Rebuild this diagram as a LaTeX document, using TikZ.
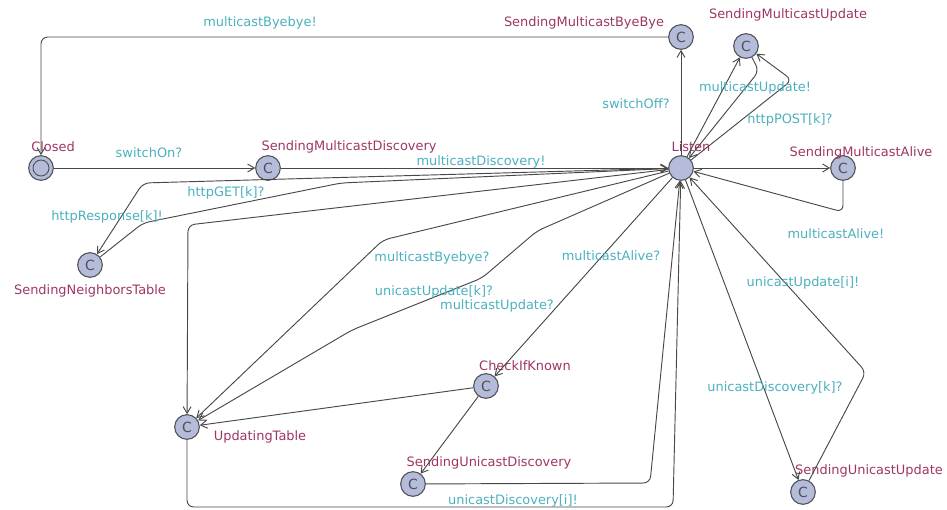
\documentclass[tikz,border=0pt]{standalone}
\usepackage{fontspec}
\setmainfont{DejaVu Sans}
\usepackage{xcolor}
\usepackage{tikz}
\usetikzlibrary{arrows.meta}

\definecolor{locfill}{RGB}{181,188,217}
\definecolor{locdraw}{RGB}{80,80,88}
\definecolor{namecol}{RGB}{158,54,100}
\definecolor{synccol}{RGB}{76,176,190}
\definecolor{edgecol}{RGB}{72,72,72}

\begin{document}
\begin{tikzpicture}[x=0.75pt,y=0.75pt,yscale=-1,xscale=1,
  loc/.style={circle,draw=locdraw,fill=locfill,line width=0.8pt,minimum size=18.5pt,inner sep=0pt,text=locdraw,font=\fontsize{10.5}{10.5}\selectfont},
  locname/.style={text=namecol,inner sep=0.75pt,font=\fontsize{9.7}{11}\selectfont},
  sync/.style={text=synccol,inner sep=0.75pt,font=\fontsize{9.7}{11}\selectfont},
  trans/.style={draw=edgecol,line width=0.7pt,rounded corners=5pt,-{Straight Barb[length=5pt,width=6pt]}}]
\useasboundingbox (0,0) rectangle (947,510);

%Shape: Circle (locations)
\node [loc] (closed) at (41,168) {};
\draw [locdraw,line width=0.7pt] (closed.center) circle [radius=6pt];
\node [loc] (smd) at (268,168) {C};
\node [loc] (listen) at (681,168) {};
\node [loc] (smb) at (681,37) {C};
\node [loc] (smu) at (746,46) {C};
\node [loc] (sma) at (843,168) {C};
\node [loc] (snt) at (90,265) {C};
\node [loc] (ut) at (187,427) {C};
\node [loc] (cik) at (486,386) {C};
\node [loc] (sud) at (413,484) {C};
\node [loc] (suu) at (803,492) {C};

% Text Node (location names)
\node [locname] (closedname) at (53,147) {Closed};
\node [locname] (smdname) at (349,147) {SendingMulticastDiscovery};
\node [locname] (listenname) at (691,147) {Listen};
\node [locname] (smbname) at (584,23) {SendingMulticastByeBye};
\node [locname] (smuname) at (788,15) {SendingMulticastUpdate};
\node [locname] (smaname) at (861,153) {SendingMulticastAlive};
\node [locname] (sntname) at (90,291) {SendingNeighborsTable};
\node [locname] (utname) at (260,437) {UpdatingTable};
\node [locname] (cikname) at (525,366) {CheckIfKnown};
\node [locname] (sudname) at (489,463) {SendingUnicastDiscovery};
\node [locname] (suuname) at (869,471) {SendingUnicastUpdate};

%Bend points
\coordinate (smuback) at (759,71);
\coordinate (postbend) at (792,80);
\coordinate (alivebend) at (843,212);
\coordinate (getbend) at (143,183);
\coordinate (respbendA) at (143,223);
\coordinate (respbendB) at (341,183);
\coordinate (tablebend) at (188,225);
\coordinate (byebend) at (383,240);
\coordinate (updbendA) at (537,231);
\coordinate (updbendB) at (482,278);
\coordinate (updbendC) at (352,330);
\coordinate (discbend) at (650,483);
\coordinate (tablebackA) at (187,507);
\coordinate (tablebackB) at (673,507);
\coordinate (uubend) at (866,372);

%Straight Lines (transitions)
\draw [trans] (smb) -| (closed);
\draw [trans] (closed) -- (smd);
\draw [trans] (smd) -- (listen);
\draw [trans] (listen) -- (smb);
\draw [trans] (listen) -- (smu);
\draw [trans] (smu) -- (smuback) -- (listen);
\draw [trans] (listen) -- (postbend) -- (smu);
\draw [trans] (listen) -- (sma);
\draw [trans] (sma) -- (alivebend) -- (listen);
\draw [trans] (listen) -- (getbend) -- (snt);
\draw [trans] (snt) -- (respbendA) -- (respbendB) -- (listen);
\draw [trans] (listen) -- (tablebend) -- (ut);
\draw [trans] (listen) -- (byebend) -- (ut);
\draw [trans] (listen) -- (updbendA) -- (updbendB) -- (updbendC) -- (ut);
\draw [trans] (listen) -- (cik);
\draw [trans] (cik) -- (ut);
\draw [trans] (cik) -- (sud);
\draw [trans] (sud) -- (discbend) -- (listen);
\draw [trans] (ut) -- (tablebackA) -- (tablebackB) -- (listen);
\draw [trans] (listen) -- (suu);
\draw [trans] (suu) -- (uubend) -- (listen);

% Text Node (synchronisations)
\node [sync] (byebyesend) at (260,23) {multicastByebye!};
\node [sync] (switchon) at (149,153) {switchOn?};
\node [sync] (discsend) at (481,162) {multicastDiscovery!};
\node [sync] (httpget) at (226,193) {httpGET[k]?};
\node [sync] (httpresp) at (107,217) {httpResponse[k]!};
\node [sync] (switchoff) at (636,104) {switchOff?};
\node [sync] (updsend) at (755,88) {multicastUpdate!};
\node [sync] (httppost) at (790,120) {httpPOST[k]?};
\node [sync] (alivesend) at (836,234) {multicastAlive!};
\node [sync] (byebyerecv) at (432,258) {multicastByebye?};
\node [sync] (uupdrecv) at (434,292) {unicastUpdate[k]?};
\node [sync] (mupdrecv) at (497,306) {multicastUpdate?};
\node [sync] (aliverecv) at (611,256) {multicastAlive?};
\node [sync] (uupdsend) at (803,283) {unicastUpdate[i]!};
\node [sync] (udiscrecv) at (775,388) {unicastDiscovery[k]?};
\node [sync] (udiscsend) at (513,501) {unicastDiscovery[i]!};

\end{tikzpicture}
\end{document}
